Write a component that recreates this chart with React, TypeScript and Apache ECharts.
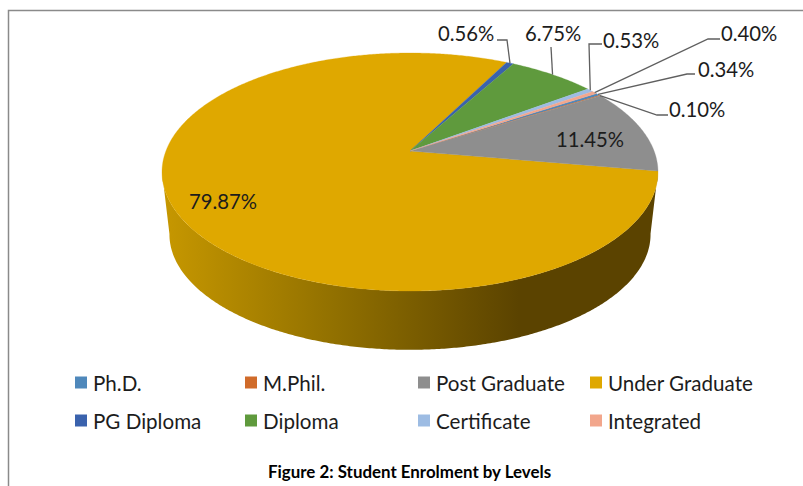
import React, { useEffect, useRef } from "react";
import * as echarts from "echarts";

const categories = ["Ph.D.", "M.Phil.", "Post Graduate", "Under Graduate", "PG Diploma", "Diploma", "Certificate", "Integrated"];
const shares = [0.34, 0.1, 11.45, 79.87, 0.56, 6.75, 0.53, 0.4];
const colors = ["#4f88bb", "#d06b2a", "#8e8e8e", "#dfa800", "#3a62ad", "#5f9a3d", "#9dbce3", "#f2a68c"];

const FONT = "Lato";
const CX = 410;
const CY = 151;
const A = 244.1;
const B = 115.3;
const P = 0.1765;
const START_DEG = 33.1;
const WALL_K = 0.97;
const WALL_DY = 63;

const project = (deg: number, k = 1, dy = 0) => {
  const t = (deg * Math.PI) / 180;
  const c = Math.cos(t);
  const s = Math.sin(t);
  const d = 1 + P * s;
  return [CX + (k * A * c) / d, CY + dy - (k * B * s) / d];
};

const arcPoints = (from: number, to: number, k = 1, dy = 0) => {
  const n = Math.max(2, Math.ceil(Math.abs(to - from) * 2));
  const pts: number[][] = [];
  for (let i = 0; i <= n; i++) pts.push(project(from + ((to - from) * i) / n, k, dy));
  return pts;
};

const toPath = (pts: number[][]) =>
  "M" + pts.map((p) => p[0].toFixed(2) + " " + p[1].toFixed(2)).join("L") + "Z";

// label anchor (left, middle) and leader-line elbow points
const labelAt: Record<string, { x: number; y: number; line?: number[][] }> = {
  "Ph.D.": { x: 698, y: 68.5, line: [[695, 74], [687, 74]] },
  "M.Phil.": { x: 669, y: 108.5, line: [[668, 115], [657, 115]] },
  "Post Graduate": { x: 556, y: 138.5 },
  "Under Graduate": { x: 189, y: 200.5 },
  "PG Diploma": { x: 438, y: 32.5, line: [[497, 40], [507, 40]] },
  Diploma: { x: 525, y: 32.5, line: [[551, 47]] },
  Certificate: { x: 603, y: 39.5, line: [[602, 44], [589, 44]] },
  Integrated: { x: 721, y: 32.5, line: [[720, 39], [708, 39]] },
};

const legendPos = [
  [75, 372],
  [245, 372],
  [418, 372],
  [590, 372],
  [75, 410],
  [245, 410],
  [418, 410],
  [590, 410],
];

const total = shares.reduce((a, b) => a + b, 0);
const startOf = (i: number) => START_DEG - (shares.slice(0, i).reduce((a, b) => a + b, 0) / total) * 360;

export default function App() {
  const ref = useRef<HTMLDivElement>(null);
  useEffect(() => {
    const chart = echarts.init(ref.current!, null, { renderer: "svg" });
    const series = categories.map((name, idx) => ({
      type: "custom",
      name,
      coordinateSystem: "none",
      z: name === "Under Graduate" ? 2 : 3,
      itemStyle: { color: colors[idx] },
      data: [[shares[idx]]],
      renderItem: (_p: any, api: any) => {
        const v = api.value(0) as number;
        const from = startOf(idx);
        const to = from - (v / total) * 360;
        const children: any[] = [];
        if (name === "Under Graduate") {
          const wall = [...arcPoints(-9.8, -170, 1, 0), ...arcPoints(-170, -9.8, WALL_K, WALL_DY)];
          children.push({
            type: "path",
            shape: { pathData: toPath(wall) },
            style: {
              fill: new echarts.graphic.LinearGradient(
                161, 0, 658, 0,
                [
                  { offset: 0, color: "#c79800" },
                  { offset: 0.35, color: "#917000" },
                  { offset: 0.72, color: "#5b4300" },
                  { offset: 1, color: "#5b4300" },
                ],
                true
              ),
            },
          });
        }
        children.push({
          type: "path",
          shape: { pathData: toPath([[CX, CY], ...arcPoints(from, to)]) },
          style: { fill: colors[idx], stroke: colors[idx], lineWidth: 0.3 },
        });
        const lab = labelAt[name];
        if (lab.line) {
          children.push({
            type: "polyline",
            shape: { points: [...lab.line, project((from + to) / 2)] },
            style: { fill: "none", stroke: "#5f5f5f", lineWidth: 1.3 },
            z2: 5,
          });
        }
        children.push({
          type: "text",
          x: lab.x,
          y: lab.y,
          style: {
            text: v.toFixed(2) + "%",
            fill: "#1c1c1c",
            font: `20.3px ${FONT}`,
            verticalAlign: "middle",
            align: "left",
          },
          z2: 6,
        });
        return { type: "group", children };
      },
    }));
    chart.setOption({
      animation: false,
      backgroundColor: "#ffffff",
      title: {
        text: "Figure 2: Student Enrolment by Levels",
        left: 268,
        top: 463,
        textStyle: { fontFamily: FONT, fontSize: 16.9, fontWeight: "bold", color: "#000" },
        padding: 0,
      },
      legend: categories.map((name, i) => ({
        data: [{ name, icon: "rect" }],
        left: legendPos[i][0],
        top: legendPos[i][1],
        padding: 0,
        itemWidth: 12,
        itemHeight: 12,
        itemGap: 0,
        selectedMode: false,
        textStyle: { fontFamily: FONT, fontSize: 20.6, color: "#1c1c1c", padding: [0, 0, 0, 1] },
      })),
      graphic: [
        {
          type: "polyline",
          shape: { points: [[803, 10.5], [8.5, 10.5], [8.5, 486]] },
          style: { fill: "none", stroke: "#8a8a8a", lineWidth: 1.5 },
          silent: true,
        },
      ],
      series,
    });
    return () => chart.dispose();
  }, []);
  return <div ref={ref} style={{ position: "fixed", left: 0, top: 0, width: 803, height: 486 }} />;
}
